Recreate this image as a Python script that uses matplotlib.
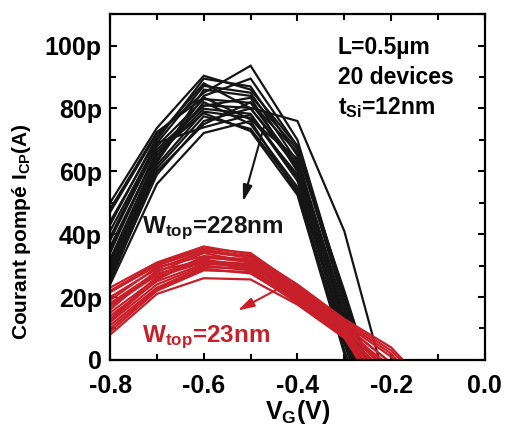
import matplotlib
matplotlib.use('Agg')
from matplotlib import pyplot as plt
from matplotlib.ticker import MultipleLocator, FuncFormatter

plt.rcParams['font.family'] = ['Liberation Sans', 'DejaVu Sans']
plt.rcParams['font.weight'] = 'bold'
plt.rcParams['axes.unicode_minus'] = False
plt.rcParams['mathtext.fontset'] = 'custom'
plt.rcParams['mathtext.rm'] = 'Liberation Sans:bold'
plt.rcParams['mathtext.it'] = 'Liberation Sans:bold'
plt.rcParams['mathtext.bf'] = 'Liberation Sans:bold'

# gate voltage grid (V)
vg_black = [-0.8, -0.7, -0.6, -0.5, -0.4, -0.3, -0.2]
vg_red = [-0.8, -0.7, -0.6, -0.5, -0.4, -0.3, -0.2, -0.1]

# charge pumping current (pA), Wtop = 228 nm
icp_228 = [
    [50, 73.8, 90.4, 86, 68, 18, -30],
    [47, 72, 85, 93.6, 70, 20, -28],
    [44, 70, 89.5, 87, 65, 12, -35],
    [41, 69, 87.2, 85, 63, 14, -30],
    [38, 68, 83, 81.8, 62, 10, -35],
    [36, 66, 81, 80.2, 76, 41, -14],
    [34, 67, 80.8, 83.4, 60, 8, -35],
    [32, 65, 79.9, 78.3, 58, 6, -35],
    [30, 64, 82, 75, 55, 9, -30],
    [29, 63, 84, 89.5, 68, 21, -25],
    [28, 62, 79, 77, 59, 13, -30],
    [27, 61, 77.5, 73.5, 54, 5, -35],
    [26, 59, 76, 80, 61, 14, -30],
    [25, 60, 75, 82, 66, 22, -25],
    [24, 56, 72.2, 76, 53, 3, -35],
    [31, 63, 86, 84, 67, 18, -30],
    [43, 71, 88, 80, 62, 11, -35],
    [35, 66, 78.5, 72.8, 52.5, 2, -35],
    [39, 69, 74, 78, 57, 7, -30],
    [48, 72.5, 83.5, 76.5, 64, 16, -30],
]

# charge pumping current (pA), Wtop = 23 nm
icp_23 = [
    [23, 31, 36.1, 33.5, 24, 13, 4, -12],
    [21.5, 30, 35, 33, 23, 12, 2, -15],
    [20, 29, 34.5, 32.5, 22.5, 11.5, 1, -15],
    [19, 29.5, 33, 32, 22, 11, -1, -15],
    [18, 28, 34, 31, 21.5, 10.5, -3, -20],
    [17, 27, 32.5, 31.5, 21, 10, -5, -20],
    [16, 28.5, 31.5, 30.5, 20.5, 10, -4, -20],
    [15, 26, 32, 29.5, 21, 9.5, -8, -25],
    [14, 25, 30.5, 30, 20, 9, -6, -20],
    [13, 26.5, 31, 29, 19.5, 9, -10, -25],
    [12, 24, 30, 28.5, 19, 8.5, -12, -25],
    [11, 23, 29.5, 29, 19, 8, -15, -30],
    [10, 22.5, 29, 27.5, 18.5, 8, -10, -25],
    [9, 22, 28.5, 28, 18, 7.5, -18, -30],
    [8, 21, 26, 25.6, 17.6, 7, -15, -30],
    [22, 30.5, 35.5, 34, 23.5, 12.5, 3, -12],
    [17.5, 27.5, 31, 30, 20, 9, -2, -18],
    [12.5, 25.5, 33, 31, 21.5, 11, -1, -15],
]

black = '#151515'
red = '#c8202a'

fig = plt.figure(figsize=(5.05, 4.30), dpi=100)
ax = fig.add_axes([0.218, 0.163, 0.742, 0.804])

for row in icp_228:
    ax.plot(vg_black, row, color=black, lw=1.6, solid_joinstyle='miter')
for row in icp_23:
    ax.plot(vg_red, row, color=red, lw=1.6, solid_joinstyle='miter')

ax.set_xlim(-0.8, 0.0)
ax.set_ylim(0, 110)
ax.xaxis.set_major_locator(MultipleLocator(0.2))
ax.xaxis.set_minor_locator(MultipleLocator(0.1))
ax.yaxis.set_major_locator(MultipleLocator(20))
ax.yaxis.set_minor_locator(MultipleLocator(10))
ax.xaxis.set_major_formatter(FuncFormatter(lambda v, p: f'{v:.1f}'))
ax.yaxis.set_major_formatter(FuncFormatter(lambda v, p: '0' if v == 0 else f'{v:.0f}p'))
ax.tick_params(which='both', direction='in', top=True, right=True, width=1.5,
               labelsize=18)
ax.tick_params(which='major', length=5)
ax.tick_params(axis='y', which='major', pad=6)
ax.tick_params(axis='x', which='major', pad=10)
ax.tick_params(which='minor', length=4)
for s in ax.spines.values():
    s.set_linewidth(1.6)

ax.set_xlabel('V$_G$(V)', fontsize=18, fontweight='bold', labelpad=0)
ax.set_ylabel('Courant pompé I$_{CP}$(A)', fontsize=15, fontweight='bold')
ax.yaxis.set_label_coords(-0.205, 0.37)

ax.text(-0.3136, 97.4, 'L=0.5µm', fontsize=16.5, fontweight='bold', va='baseline')
ax.text(-0.3136, 87.9, '20 devices', fontsize=16.5, fontweight='bold', va='baseline')
ax.text(-0.3136, 78.3, 't$_{Si}$=12nm', fontsize=16.5, fontweight='bold', va='baseline')

ax.text(-0.732, 40.3, 'W$_{top}$=228nm', fontsize=17.5, fontweight='bold', va='baseline',
        color=black)
ax.text(-0.732, 5.6, 'W$_{top}$=23nm', fontsize=17.5, fontweight='bold', va='baseline',
        color=red)

ax.annotate('', xy=(-0.518, 49.5), xytext=(-0.47, 75),
            arrowprops=dict(arrowstyle='-|>,head_length=0.7,head_width=0.2',
                            color=black, lw=1.5, mutation_scale=14))
ax.annotate('', xy=(-0.533, 15.3), xytext=(-0.43, 23.5),
            arrowprops=dict(arrowstyle='-|>,head_length=0.7,head_width=0.2',
                            color=red, lw=1.5, mutation_scale=14))

fig.savefig('out.png', dpi=100)
